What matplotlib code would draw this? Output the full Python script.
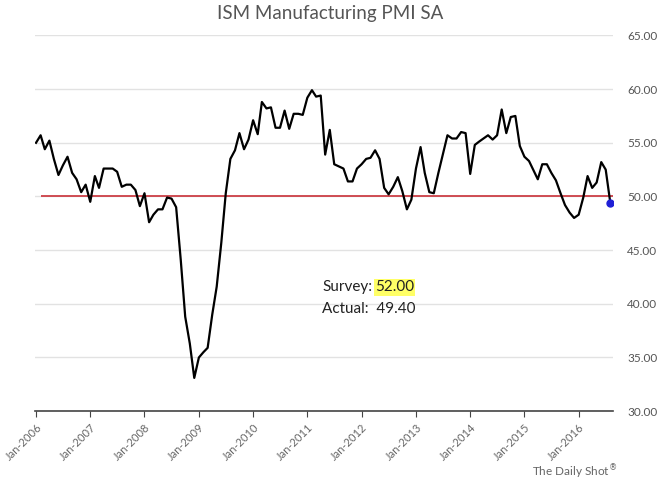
import pandas as pd
import matplotlib
matplotlib.use('Agg')
import matplotlib.pyplot as plt
import matplotlib.dates as mdates

plt.rcParams['font.family'] = ['Lato', 'DejaVu Sans']

# Monthly ISM Manufacturing PMI, Jan 2006 - Aug 2016
pmi = [
    55.0, 55.7, 54.4, 55.2, 53.5, 52.0, 52.9, 53.7, 52.2, 51.6, 50.4, 51.1,  # 2006
    49.5, 51.9, 50.8, 52.6, 52.6, 52.6, 52.3, 50.9, 51.1, 51.1, 50.6, 49.1,  # 2007
    50.3, 47.6, 48.3, 48.8, 48.8, 49.9, 49.8, 49.0, 44.1, 38.8, 36.3, 33.1,  # 2008
    35.0, 35.5, 35.9, 39.0, 41.6, 45.7, 50.3, 53.5, 54.3, 55.9, 54.4, 55.3,  # 2009
    57.1, 55.8, 58.8, 58.2, 58.3, 56.4, 56.4, 58.0, 56.3, 57.7, 57.7, 57.6,  # 2010
    59.2, 59.9, 59.3, 59.4, 53.9, 56.2, 53.0, 52.8, 52.6, 51.4, 51.4, 52.6,  # 2011
    53.0, 53.5, 53.6, 54.3, 53.5, 50.8, 50.2, 50.9, 51.8, 50.5, 48.8, 49.7,  # 2012
    52.6, 54.6, 52.2, 50.4, 50.3, 52.2, 53.9, 55.7, 55.4, 55.4, 56.0, 55.9,  # 2013
    52.1, 54.8, 55.1, 55.4, 55.7, 55.3, 55.7, 58.1, 55.9, 57.4, 57.5, 54.7,  # 2014
    53.7, 53.3, 52.5, 51.6, 53.0, 53.0, 52.2, 51.5, 50.3, 49.2, 48.5, 48.0,  # 2015
    48.3, 49.9, 51.9, 50.8, 51.3, 53.2, 52.5, 49.4,                          # 2016
]
dates = pd.date_range('2006-01-01', periods=len(pmi), freq='MS')
threshold = 50
survey = 52.00
actual = 49.40
y_ticks = [30, 35, 40, 45, 50, 55, 60, 65]
x_ticks = pd.date_range('2006-01-01', '2016-01-01', freq='YS')

fig = plt.figure(figsize=(6.6, 4.99), dpi=100)
ax = fig.add_axes([0.053, 0.176, 0.876, 0.753])

ax.plot(dates, pmi, color='black', lw=1.6, zorder=3)
ax.hlines(threshold, dates[1], pd.Timestamp('2016-09-01'), color='#cc3f46', lw=1.3, zorder=2)
ax.plot(dates[-1], pmi[-1], 'o', color='#1f1fd6', ms=5, zorder=4)

ax.set_ylim(30, 65)
ax.set_xlim(pd.Timestamp('2005-12-25'), pd.Timestamp('2016-08-20'))
ax.set_yticks(y_ticks)
ax.set_yticklabels([f'{v:.2f}' for v in y_ticks])
ax.yaxis.tick_right()
ax.tick_params(axis='y', length=0, labelsize=8.5, labelcolor='#555555', pad=10)
ax.grid(axis='y', color='#e2e2e2', lw=1)
ax.set_axisbelow(True)

ax.set_xticks(x_ticks)
ax.xaxis.set_major_formatter(mdates.DateFormatter('%b-%Y'))
ax.tick_params(axis='x', length=4, color='#444444', labelsize=8, labelcolor='#666666')
for lbl in ax.get_xticklabels():
    lbl.set_rotation(45)
    lbl.set_ha('right')
    lbl.set_rotation_mode('anchor')

for side in ['top', 'left', 'right']:
    ax.spines[side].set_visible(False)
ax.spines['bottom'].set_color('#444444')
ax.spines['bottom'].set_linewidth(1.2)

fig.text(0.5, 0.972, 'ISM Manufacturing PMI SA', fontsize=13.5, color='#555555',
         ha='center', va='center')

fig.text(0.488, 0.416, 'Survey:', fontsize=11, color='#222222')
fig.text(0.568, 0.416, f'{survey:.2f}', fontsize=11, color='#222222',
         bbox=dict(facecolor='#ffff66', edgecolor='none', pad=1.0))
fig.text(0.488, 0.373, f'Actual:  {actual:.2f}', fontsize=11, color='#222222')
fig.text(0.935, 0.045, 'The Daily Shot$^{®}$', fontsize=8.5, color='#666666', ha='right')

fig.savefig('out.png', dpi=100)
